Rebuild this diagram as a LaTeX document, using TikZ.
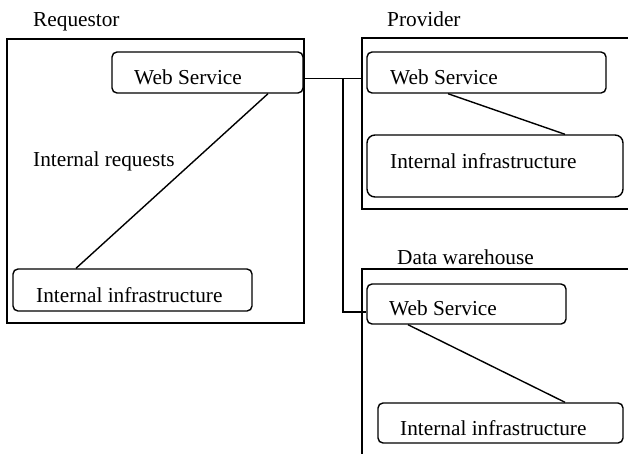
\documentclass[tikz,border=0pt]{standalone}
\usepackage{fontspec}
\setmainfont{Liberation Serif}
\begin{document}
\begin{tikzpicture}[x=1pt,y=-1pt,
  frame/.style={draw,line width=1.4pt,rectangle,inner sep=0pt},
  rbox/.style={draw,line width=1.4pt,rectangle,rounded corners=5pt,inner sep=0pt},
  lbl/.style={anchor=base west,inner sep=0pt,font=\fontsize{21.3}{23}\selectfont},
  conn/.style={line width=1.4pt}]
\useasboundingbox (0,0) rectangle (628,453);
\clip (0,0) rectangle (628,453);
% frames
\node[frame,minimum width=297pt,minimum height=284pt] (reqbox) at (155.5,181) {};
\node[frame,minimum width=278pt,minimum height=171pt] (provbox) at (501,123.5) {};
\node[frame,minimum width=278pt,minimum height=201pt] (dwbox) at (501,369.5) {};
% titles
\node[lbl] (reqt) at (33,26) {Requestor};
\node[lbl] (provt) at (387,26) {Provider};
\node[lbl] (dwt) at (397,264) {Data warehouse};
% requestor
\node[rbox,minimum width=191pt,minimum height=41pt] (reqws) at (207.5,72.5) {};
\node[lbl] (reqwst) at (134,84) {Web Service};
\node[rbox,minimum width=239pt,minimum height=42pt] (reqii) at (132.5,290) {};
\node[lbl] (reqiit) at (36,302) {Internal infrastructure};
\node[lbl] (irq) at (33,166) {Internal requests};
% provider
\node[rbox,minimum width=239pt,minimum height=41pt] (provws) at (486.5,72.5) {};
\node[lbl] (provwst) at (390,84) {Web Service};
\node[rbox,rounded corners=8pt,minimum width=256pt,minimum height=62pt] (provii) at (495,166) {};
\node[lbl] (proviit) at (390,168) {Internal infrastructure};
% data warehouse
\node[rbox,minimum width=199pt,minimum height=40pt] (dwws) at (466.5,304) {};
\node[lbl] (dwwst) at (389,315) {Web Service};
\node[rbox,minimum width=245pt,minimum height=40pt] (dwii) at (500.5,423) {};
\node[lbl] (dwiit) at (400,435) {Internal infrastructure};
% internal connectors
\draw[conn] ([xshift=60.5pt]reqws.south) -- ([xshift=-56.5pt]reqii.north);
\draw[conn] ([xshift=-38.5pt]provws.south) -- ([xshift=70pt]provii.north);
\draw[conn] ([xshift=-58.5pt]dwws.south) -- ([xshift=64.5pt]dwii.north);
% bus
\coordinate (j) at (343,78.3);
\draw[conn] ([yshift=-5.8pt]reqws.east) -- (j) -- (j -| provbox.west);
\draw[conn] (j) |- ([yshift=-8pt]dwws.west);
\end{tikzpicture}
\end{document}
